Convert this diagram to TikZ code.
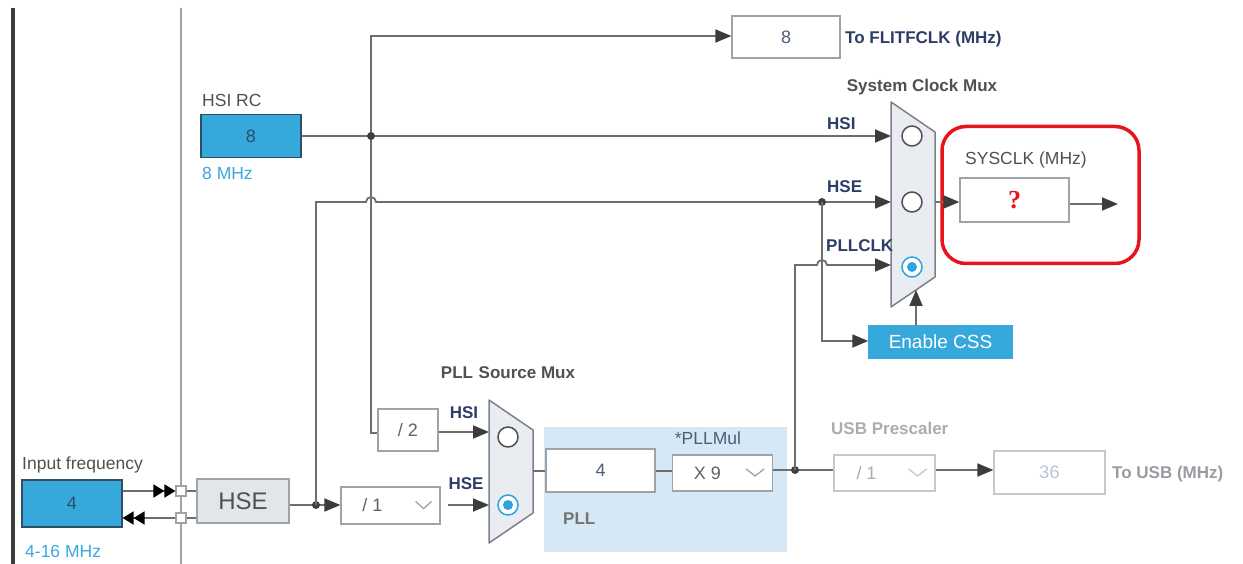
\documentclass[tikz,border=0pt]{standalone}
\usepackage{fontspec}
\setmainfont{Liberation Sans}
\newfontfamily\qfont{Liberation Serif}
\usetikzlibrary{arrows.meta}
\definecolor{stblue}{HTML}{37A8DC}
\definecolor{bluedark}{HTML}{2F4F63}
\definecolor{bluetext}{HTML}{2D4E66}
\definecolor{wirec}{HTML}{6E6E6E}
\definecolor{arrowc}{HTML}{3C3C3C}
\definecolor{dotc}{HTML}{3F3F3F}
\definecolor{boxgray}{HTML}{9EA3A8}
\definecolor{muxfill}{HTML}{E9EDF1}
\definecolor{muxdraw}{HTML}{7C8288}
\definecolor{pllfill}{HTML}{D6E7F5}
\definecolor{lblnavy}{HTML}{2E3D66}
\definecolor{lblgray}{HTML}{505050}
\definecolor{txtblue}{HTML}{4D5D7A}
\definecolor{faint}{HTML}{A9ADB2}
\definecolor{faintbox}{HTML}{C5C9CD}
\definecolor{faintblue}{HTML}{B5C6D8}
\definecolor{mhzblue}{HTML}{3AA8E0}
\definecolor{redc}{HTML}{E8141C}
\definecolor{selblue}{HTML}{2FA3E0}
\definecolor{hsefill}{HTML}{E3E6E9}
\newcommand\vfnt{\fontsize{18}{20}\selectfont}
\newcommand\lfnt{\fontsize{17}{19}\selectfont\bfseries}
\newcommand\rfnt{\fontsize{17.5}{19}\selectfont}
\begin{document}
\begin{tikzpicture}[x=1pt,y=-1pt,
 wire/.style={draw=wirec, line width=1.8pt},
 arr/.style={wire, -{Triangle[length=16pt,width=13pt,color=arrowc]}},
 jdot/.style={circle, fill=dotc, inner sep=0pt, minimum size=8pt},
 valbox/.style={draw=boxgray, line width=1.2pt, fill=white, inner sep=0pt, font=\vfnt, text=txtblue},
 bluebox/.style={draw=bluedark, line width=1.2pt, fill=stblue, inner sep=0pt, font=\vfnt, text=bluetext},
 navylbl/.style={font=\lfnt, text=lblnavy, inner sep=0pt},
 graylbl/.style={font=\lfnt, text=lblgray, inner sep=0pt},
 plainlbl/.style={font=\rfnt, text=lblgray, inner sep=0pt},
 muxshape/.style={draw=muxdraw, line width=1.5pt, fill=muxfill, line join=round},
 radio/.style={circle, draw=lblgray, line width=1.5pt, fill=white, inner sep=0pt, minimum size=20pt},
 radiosel/.style={circle, draw=selblue, line width=1.5pt, fill=white, inner sep=0pt, minimum size=20pt},
 radiodot/.style={circle, fill=selblue, inner sep=0pt, minimum size=10pt},
 chev/.style={draw=#1, line width=1.3pt},
 sq/.style={draw=boxgray, line width=1.2pt, fill=white, inner sep=0pt, minimum size=10pt}
]
\useasboundingbox (0,0) rectangle (1243,564);
% frame lines
\draw[line width=4pt, color=arrowc] (13,8) -- (13,564);
\draw[line width=2pt, color=boxgray] (181,8) -- (181,564);

% PLL background
\fill[pllfill] (544,427) rectangle (787,552);
\node[graylbl, anchor=west, text=lblgray!80] (plllbl) at (563,519) {PLL};

% HSI RC
\node[plainlbl, anchor=west] (hsirclbl) at (202,100) {HSI RC};
\node[bluebox, minimum width=100pt, minimum height=43pt] (hsirc) at (251,136) {8};
\node[font=\rfnt, text=mhzblue, anchor=west, inner sep=0pt] (hsimhz) at (202,173) {8 MHz};

% FLITFCLK
\node[valbox, minimum width=108pt, minimum height=42pt] (flit) at (786,37) {8};
\node[navylbl, anchor=west] (flitlbl) at (845,39) {To FLITFCLK (MHz)};

% Input frequency
\node[plainlbl, anchor=west] (inlbl) at (22,465) {Input frequency};
\node[bluebox, minimum width=100pt, minimum height=47pt] (infreq) at (72,503.5) {4};
\node[font=\rfnt, text=mhzblue, anchor=west, inner sep=0pt] (inmhz) at (25,551) {4-16 MHz};
\node[sq] (sq1) at (181,491) {};
\node[sq] (sq2) at (181,518) {};
\draw[line width=1.8pt, draw=wirec, -{Triangle[length=11pt,width=13pt,color=black]Triangle[length=11pt,width=13pt,color=black]}] (infreq.east |- sq1) -- (sq1.west);
\draw[line width=1.8pt, draw=wirec, -{Triangle[length=11pt,width=13pt,color=black]Triangle[length=11pt,width=13pt,color=black]}] (sq2.west) -- (infreq.east |- sq2);

% HSE box
\node[draw=boxgray, line width=1.2pt, fill=hsefill, inner sep=0pt, minimum width=92pt, minimum height=44pt, font=\fontsize{24}{26}\selectfont, text=lblgray] (hse) at (243,501) {HSE};
\draw[wire] (sq1.east) -- (hse.west |- sq1);
\draw[wire] (sq2.east) -- (hse.west |- sq2);

% HSE divider
\node[valbox, minimum width=99pt, minimum height=37pt, text=lblgray!90] (div1) at (390.5,505.5) {\hspace*{-36pt}/ 1};
\draw[chev=boxgray] (div1.east) ++(-25,-4) -- ++(8,7) -- ++(8,-7);
\coordinate (j1) at (316,505);
\draw[arr] (hse.east |- j1) -- (div1.west |- j1);
\node[jdot] (j1dot) at (j1) {};

% HSI /2
\node[valbox, minimum width=60pt, minimum height=42pt, text=lblgray!90] (div2) at (408,430) {/ 2};

% PLL source mux
\draw[muxshape] (489,400) -- (533,430) -- (533,513) -- (489,543) -- cycle;
\coordinate (pm-hsi) at (489,432);
\coordinate (pm-hse) at (489,505);
\coordinate (pm-out) at (533,471);
\node[radio] (pm-c1) at (508,437) {};
\node[radiosel] (pm-c2) at (508,505) {};
\node[radiodot] at (pm-c2) {};
\node[graylbl] (pmlbl) at (508,373) {PLL\,\,Source Mux};
\node[navylbl] (pmhsi) at (464,413) {HSI};
\node[navylbl] (pmhse) at (466,484) {HSE};
\draw[arr] (div2.east |- pm-hsi) -- (pm-hsi);
\draw[arr] ([xshift=7pt]div1.east |- pm-hse) -- (pm-hse);

% PLL blocks
\node[valbox, minimum width=109pt, minimum height=43pt] (prediv) at (600.5,470.5) {4};
\node[valbox, minimum width=100pt, minimum height=36pt, text=lblgray!90] (mul) at (722.5,473) {\hspace*{-30pt}X 9};
\draw[chev=boxgray] (mul.east) ++(-27,-4) -- ++(9,7) -- ++(9,-7);
\node[plainlbl, text=txtblue] (mullbl) at (708,438) {*PLLMul};
\draw[wire] (pm-out) -- (prediv.west |- pm-out);
\draw[wire] (prediv.east |- pm-out) -- (mul.west |- pm-out);

% USB
\coordinate (j2) at (795,470);
\node[draw=faintbox, line width=1.2pt, fill=white, inner sep=0pt, minimum width=101pt, minimum height=36pt, font=\vfnt, text=faint] (usbdiv) at (884.5,473) {\hspace*{-36pt}/ 1};
\draw[chev=faintbox] (usbdiv.east) ++(-27,-4) -- ++(9,7) -- ++(9,-7);
\node[draw=faintbox, line width=1.2pt, fill=white, inner sep=0pt, minimum width=111pt, minimum height=43pt, font=\vfnt, text=faintblue] (usb) at (1049.5,472.5) {36};
\node[font=\lfnt, text=faint!90!black, anchor=west, inner sep=0pt] (usblbl) at (1112,474) {To USB (MHz)};
\node[font=\lfnt, text=faint, anchor=west, inner sep=0pt] (usbprelbl) at (831,428) {USB Prescaler};
\draw[wire] (mul.east |- j2) -- (usbdiv.west |- j2);
\draw[arr] (usbdiv.east |- j2) -- (usb.west |- j2);
\node[jdot] (j2dot) at (j2) {};

% System clock mux
\draw[muxshape] (891,102) -- (935,132) -- (935,277) -- (891,307) -- cycle;
\coordinate (sm-hsi) at (891,136);
\coordinate (sm-hse) at (891,202);
\coordinate (sm-pll) at (891,265);
\coordinate (sm-out) at (935,202);
\coordinate (sm-bot) at (916,290);
\node[radio] (sm-c1) at (912,136) {};
\node[radio] (sm-c2) at (912,202) {};
\node[radiosel] (sm-c3) at (912,267) {};
\node[radiodot] at (sm-c3) {};
\node[graylbl] (smlbl) at (922,87) {System Clock Mux};
\node[navylbl, anchor=west] (smhsi) at (827,124) {HSI};
\node[navylbl, anchor=west] (smhse) at (827,187) {HSE};
\node[navylbl, anchor=west] (smpll) at (826,246) {PLLCLK};

% HSI path
\coordinate (j3) at (371,136);
\draw[arr] (hsirc.east) -- (sm-hsi);
\draw[arr] (div2.west |- 0,433) -- (371,433) -- (371,36) -- (flit.west |- 0,36);
\node[jdot] (j3dot) at (j3) {};

% HSE path with hop
\coordinate (j4) at (822,202);
\draw[arr] (j1) -- (316,202) -- (366,202) arc[start angle=180,end angle=0,radius=5pt] -- (sm-hse);
\node[jdot] (j4dot) at (j4) {};

% Enable CSS
\node[draw=stblue, fill=stblue, inner sep=0pt, minimum width=144pt, minimum height=33pt, font=\fontsize{19}{21}\selectfont, text=white] (css) at (940.5,341.5) {Enable CSS};
\draw[arr] (j4) -- (822,341) -- (css.west |- 0,341);
\draw[arr] (sm-bot |- css.north) -- (sm-bot);

% PLLCLK path with hop
\draw[arr] (j2) -- (795,265) -- (817,265) arc[start angle=180,end angle=0,radius=5pt] -- (sm-pll);

% SYSCLK
\node[draw=redc, line width=3.5pt, rounded corners=24pt, minimum width=197pt, minimum height=137pt, inner sep=0pt] (hl) at (1040.5,195) {};
\node[plainlbl, anchor=west] (syslbl) at (965,160) {SYSCLK (MHz)};
\node[valbox, minimum width=109pt, minimum height=44pt, text=redc, font=\qfont\fontsize{26}{28}\selectfont\bfseries] (sysclk) at (1014.5,200) {?};
\draw[arr] (sm-out) -- (sysclk.west |- sm-out);
\coordinate (sysend) at (1118,204);
\draw[arr] (sysclk.east |- sysend) -- (sysend);
\end{tikzpicture}
\end{document}
